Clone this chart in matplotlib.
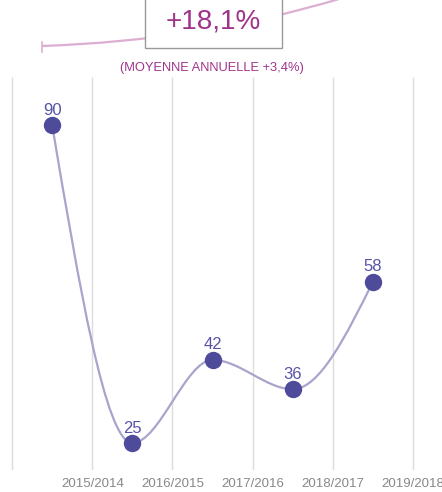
import numpy as np
import matplotlib.pyplot as plt
from matplotlib.path import Path
from matplotlib.patches import PathPatch, Rectangle

plt.rcParams['font.family'] = ['Liberation Sans', 'DejaVu Sans']

# values per season, plotted between the period gridlines
values = [90, 25, 42, 36, 58]
period_labels = ["2015/2014", "2016/2015", "2017/2016", "2018/2017", "2019/2018"]
total_growth = "+18,1%"
yearly_growth = "(MOYENNE ANNUELLE +3,4%)"

W, H = 442, 492
DOT = "#4f4b9b"
LABEL = "#5753a6"
LINE = "#a8a4cc"
ACCENT = "#a0338a"
ARC = "#dcaed2"


def monotone_path(xs, ys):
    # monotone cubic (same rule as d3 curveMonotoneX), as bezier segments
    xs = np.asarray(xs, float)
    ys = np.asarray(ys, float)
    n = len(xs)
    h = np.diff(xs)
    s = np.diff(ys) / h
    t = np.zeros(n)
    for i in range(1, n - 1):
        if np.sign(s[i - 1]) != np.sign(s[i]):
            t[i] = 0.0
        else:
            p = (s[i - 1] * h[i] + s[i] * h[i - 1]) / (h[i - 1] + h[i])
            t[i] = np.sign(s[i]) * 2 * min(abs(s[i - 1]), abs(s[i]), 0.5 * abs(p))
    t[0] = (3 * s[0] - t[1]) / 2
    t[-1] = (3 * s[-1] - t[-2]) / 2
    verts = [(xs[0], ys[0])]
    codes = [Path.MOVETO]
    for i in range(n - 1):
        d = h[i] / 3
        verts += [(xs[i] + d, ys[i] + t[i] * d),
                  (xs[i + 1] - d, ys[i + 1] - t[i + 1] * d),
                  (xs[i + 1], ys[i + 1])]
        codes += [Path.CURVE4] * 3
    return Path(verts, codes)


fig = plt.figure(figsize=(W / 100, H / 100), dpi=100)
ax = fig.add_axes([0, (H - 470) / H, 1, (470 - 77) / H])

x = np.arange(len(values))
ax.set_xlim(-0.65, 4.86)
ax.set_ylim(19.5, 99.8)

# period separators
ax.vlines(np.arange(-0.5, len(values)), 19.5, 99.8, color="#dcdcdc", lw=1, zorder=0)

ax.add_patch(PathPatch(monotone_path(x, values), fill=False, edgecolor=LINE, lw=1.6, zorder=2))
ax.plot(x, values, "o", ms=11.5, color=DOT, zorder=3)
for xi, v in zip(x, values):
    ax.annotate(str(v), (xi, v), xytext=(0, 7.5), textcoords="offset points",
                ha="center", va="baseline", fontsize=12, color=LABEL)

ax.set_xticks(np.arange(0.5, len(values)))
ax.set_xticklabels(period_labels, fontsize=9.5, color="#888888")
ax.tick_params(axis="x", length=0, pad=5.5)
ax.set_yticks([])
for sp in ax.spines.values():
    sp.set_visible(False)


def fx(px):
    return px / W


def fy(py):
    return 1 - py / H


# growth arc across the header
arc = Path([(fx(42), fy(46)), (fx(200), fy(40.7)), (fx(340), fy(-1.3))],
           [Path.MOVETO, Path.CURVE3, Path.CURVE3])
fig.add_artist(PathPatch(arc, fill=False, edgecolor=ARC, lw=1.6, transform=fig.transFigure))
fig.add_artist(plt.Line2D([fx(42), fx(42)], [fy(42), fy(52)], color=ARC, lw=1.2,
                          transform=fig.transFigure))

fig.add_artist(Rectangle((fx(145), fy(47.5)), fx(282) - fx(145), fy(-5) - fy(47.5),
                         facecolor="white", edgecolor="#999999", lw=1,
                         transform=fig.transFigure))
fig.text(fx(213), fy(21), total_growth, ha="center", va="center", fontsize=20, color=ACCENT)
fig.text(fx(212), fy(68), yearly_growth, ha="center", va="center", fontsize=9.3, color=ACCENT)

fig.savefig("out.png", dpi=100)
